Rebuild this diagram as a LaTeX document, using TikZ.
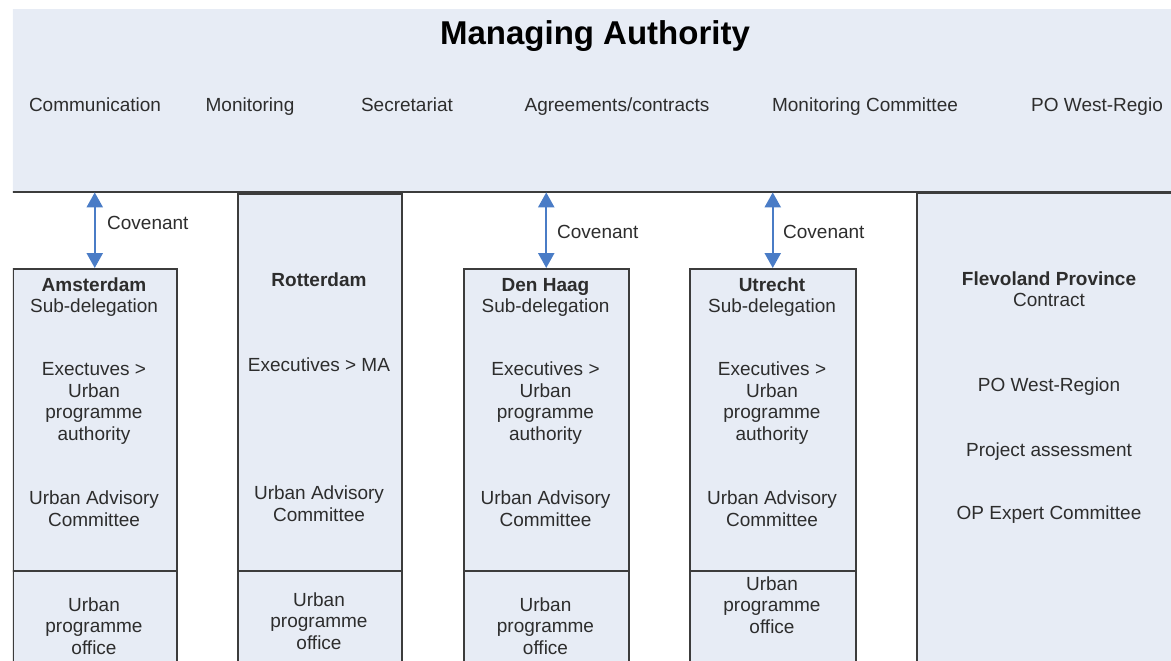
\documentclass[tikz,border=0pt]{standalone}
\usepackage{fontspec}
\setmainfont{Liberation Sans}
\usetikzlibrary{arrows.meta}
\usetikzlibrary{positioning}
\definecolor{panelfill}{RGB}{231,236,245}
\definecolor{rulegray}{RGB}{60,60,60}
\definecolor{covblue}{RGB}{74,124,198}
\definecolor{inkgray}{RGB}{45,45,45}

\begin{document}
\begin{tikzpicture}[x=1pt,y=-1pt,
    panel/.style={draw=rulegray, line width=1.5pt, fill=panelfill, rectangle, anchor=north west, inner sep=0pt},
    txt/.style={text=inkgray, font=\fontsize{19}{21.4}\selectfont, align=center, anchor=base, inner sep=0pt},
    head/.style={txt, font=\fontsize{19}{21.4}\selectfont\bfseries},
    covenant/.style={draw=covblue, line width=2.4pt, {Triangle[length=15pt,width=16pt]}-{Triangle[length=15pt,width=16pt]}}]
        \useasboundingbox (0,0) rectangle (1171,661);
        \clip (12.8,0) rectangle (1171,661);

        % managing authority
        \node[fill=panelfill, anchor=north west, inner sep=0pt, minimum width=1180pt, minimum height=183pt] (ma) at (12,9) {};
        \draw[draw=rulegray, line width=2pt] (ma.south west) -- (ma.south east);
        \node[txt, text=black, font=\fontsize{33}{38}\selectfont\bfseries] (matitle) at (595,45) {Managing Authority};
        \node[txt] (comm) at (95,111) {Communication};
        \node[txt] (moni) at (250,111) {Monitoring};
        \node[txt] (secr) at (407,111) {Secretariat};
        \node[txt] (agre) at (617,111) {Agreements/contracts};
        \node[txt] (monc) at (865,111) {Monitoring Committee};
        \node[txt] (powr) at (1097,111) {PO West-Regio};

        % cities
        \node[panel, minimum width=164pt, minimum height=302pt] (ams) at (12,268) {};
        \node[panel, minimum width=164pt, minimum height=120pt] (amsoff) at (12,570) {};
        \node[panel, minimum width=164pt, minimum height=377pt] (rot) at (237,193) {};
        \node[panel, minimum width=164pt, minimum height=120pt] (rotoff) at (237,570) {};
        \node[panel, minimum width=165pt, minimum height=302pt] (dh) at (463,268) {};
        \node[panel, minimum width=165pt, minimum height=120pt] (dhoff) at (463,570) {};
        \node[panel, minimum width=166pt, minimum height=302pt] (utr) at (689,268) {};
        \node[panel, minimum width=166pt, minimum height=120pt] (utroff) at (689,570) {};
        \node[panel, minimum width=300pt, minimum height=500pt] (flev) at (916,192) {};

        % multi-line texts sit on their last baseline
        \node[head] (amsname) at (94,291) {Amsterdam};
        \node[txt] (amssub) at (94,312) {Sub-delegation};
        \node[txt] (amsexec) at (94,440) {Exectuves >\\Urban\\programme\\authority};
        \node[txt] (amsadv) at (94,526) {Urban Advisory\\Committee};
        \node[txt] (amsupo) at (94,654) {Urban\\programme\\office};

        \node[head] (rotname) at (319,286) {Rotterdam};
        \node[txt] (rotexec) at (319,371) {Executives > MA};
        \node[txt] (rotadv) at (319,521) {Urban Advisory\\Committee};
        \node[txt] (rotupo) at (319,649) {Urban\\programme\\office};

        \node[head] (dhname) at (545.5,291) {Den Haag};
        \node[txt] (dhsub) at (545.5,312) {Sub-delegation};
        \node[txt] (dhexec) at (545.5,440) {Executives >\\Urban\\programme\\authority};
        \node[txt] (dhadv) at (545.5,526) {Urban Advisory\\Committee};
        \node[txt] (dhupo) at (545.5,654) {Urban\\programme\\office};

        \node[head] (utrname) at (772,291) {Utrecht};
        \node[txt] (utrsub) at (772,312) {Sub-delegation};
        \node[txt] (utrexec) at (772,440) {Executives >\\Urban\\programme\\authority};
        \node[txt] (utradv) at (772,526) {Urban Advisory\\Committee};
        \node[txt] (utrupo) at (772,633) {Urban\\programme\\office};

        \node[head] (flevname) at (1049,285) {Flevoland Province};
        \node[txt] (flevcon) at (1049,306) {Contract};
        \node[txt] (flevpo) at (1049,391) {PO West-Region};
        \node[txt] (flevpa) at (1049,456) {Project assessment};
        \node[txt] (flevop) at (1049,519) {OP Expert Committee};

        % covenants
        \draw[covenant] (ams.north |- ma.south) -- (ams.north);
        \draw[covenant] (dh.north |- ma.south) -- (dh.north);
        \draw[covenant] (utr.north |- ma.south) -- (utr.north);
        \node[txt, anchor=base west] (amscov) at (107,229) {Covenant};
        \node[txt, anchor=base west] (dhcov) at (557,238) {Covenant};
        \node[txt, anchor=base west] (utrcov) at (783,238) {Covenant};
    \end{tikzpicture}
\end{document}
